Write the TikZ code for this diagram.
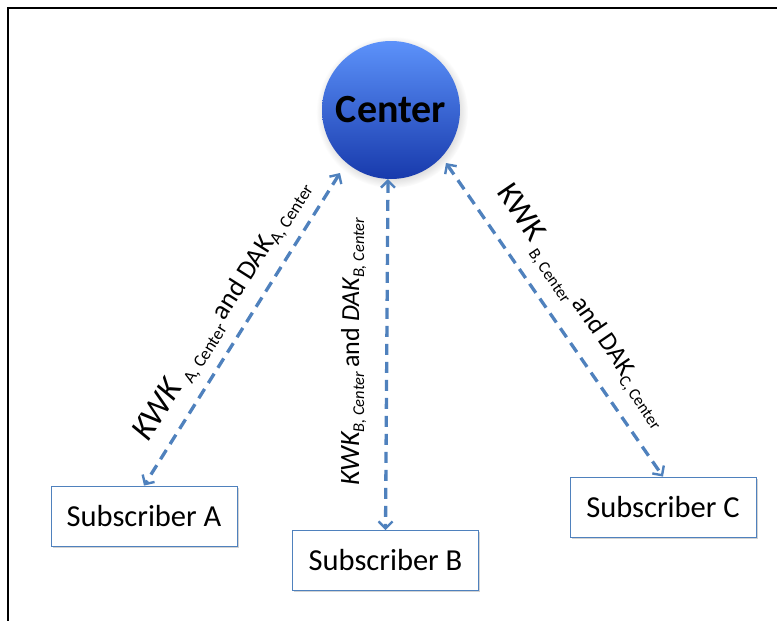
\documentclass[tikz,border=0pt]{standalone}
\usepackage{fontspec}
\setmainfont{Carlito}
\usetikzlibrary{arrows.meta,shadows}
\definecolor{linkblue}{RGB}{79,129,189}
\definecolor{balltop}{RGB}{92,146,250}
\definecolor{ballbot}{RGB}{24,58,172}
\newcommand{\fs}[1]{\fontsize{#1}{#1}\selectfont}
\begin{document}
\begin{tikzpicture}[x=1pt,y=-1pt,
  tipb/.tip={Straight Barb[length=7pt,width=14pt,line width=2.4pt]},
  link/.style={draw=linkblue, line width=3.3pt, dash pattern=on 11pt off 7pt, tipb-tipb},
  subbox/.style={draw=linkblue, line width=0.8pt, fill=white, minimum width=186pt,
    minimum height=60pt, inner sep=0pt, font=\fs{30.5},
    drop shadow={shadow xshift=1.5pt, shadow yshift=-1.5pt, opacity=0.35}},
  ball/.style={circle, minimum size=138pt, inner sep=0pt, top color=balltop,
    bottom color=ballbot, font=\fs{40}\bfseries, text=black,
    circular drop shadow={shadow xshift=1pt, shadow yshift=-2pt, opacity=0.3}},
  lbl/.style={inner sep=0pt, text=black}
]
\useasboundingbox (0,0) rectangle (777,621);
\draw[line width=1.8pt] (8,625) -- (8,8) -- (780,8);

\node[ball] (ctr) at (391,110) {Center};
\node[subbox] (A) at (144,516) {Subscriber A};
\node[subbox] (B) at (385.5,560.5) {Subscriber B};
\node[subbox] (C) at (663,507) {Subscriber C};

\coordinate (ta) at (340,173);
\coordinate (tb) at (388,179);
\coordinate (tc) at (446,163);

\draw[link] (ta) -- (A.north);
\draw[link] (tb) -- (B.north);
\draw[link] (tc) -- (C.north);

\node[lbl, rotate=57.6, anchor=base west] (la) at (148,443)
  {\fs{34}\itshape KWK\upshape\ \raisebox{-6pt}{\fs{17.5}A, Center}\fs{27}\,and DAK\raisebox{-4pt}{\fs{17.5}A, Center}};
\node[lbl, rotate=90, anchor=base west] (lb) at (359,486)
  {\fs{28}\itshape KWK\raisebox{-5pt}{\fs{16.5}B, Center}\upshape\fs{26}\,and \itshape DAK\raisebox{-5pt}{\fs{16.5}B, Center}};
\node[lbl, rotate=-55.7, anchor=base west] (lc) at (496,192)
  {\fs{32}KWK\ \raisebox{-8pt}{\fs{16.5}B, Center}\fs{26}\,and DAK\raisebox{-5pt}{\fs{16.5}C, Center}};
\end{tikzpicture}
\end{document}
